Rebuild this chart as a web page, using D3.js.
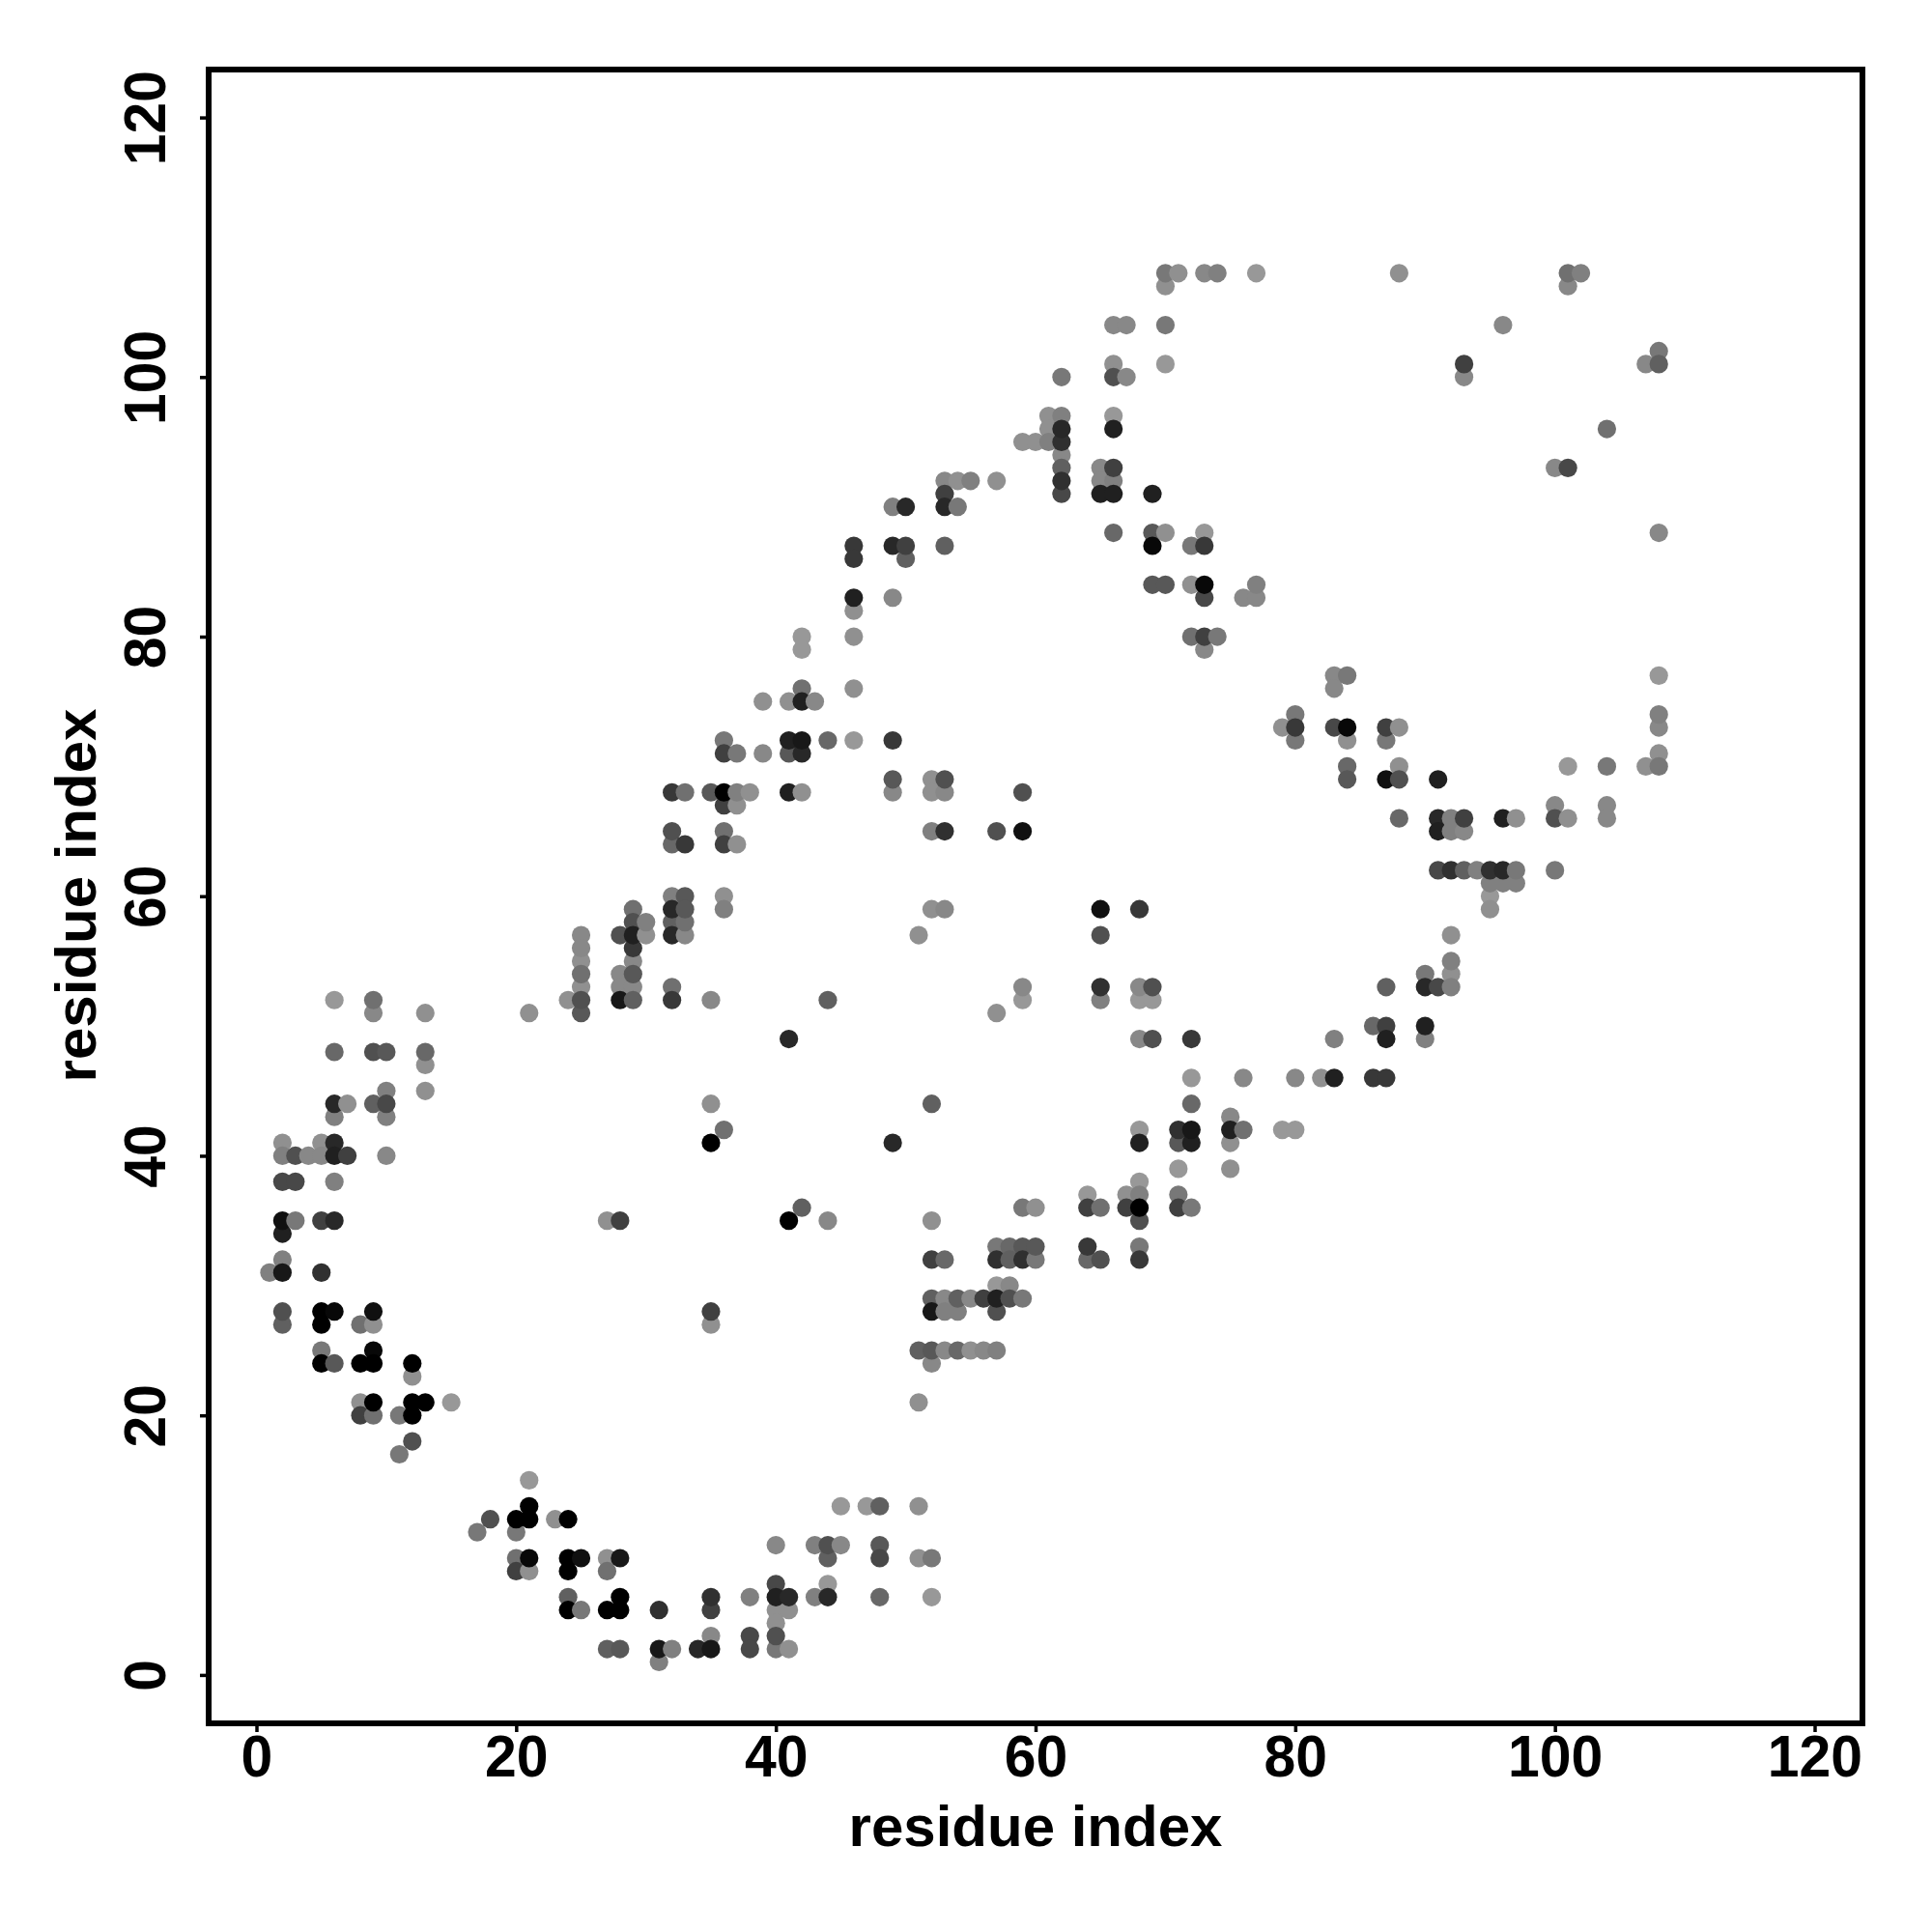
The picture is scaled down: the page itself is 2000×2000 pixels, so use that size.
<!DOCTYPE html>
<html>
<head>
<meta charset="utf-8">
<script src="https://cdn.jsdelivr.net/npm/d3@7"></script>
<style>
html,body{margin:0;padding:0;background:#fff}
svg{display:block}
text{font-family:"Liberation Sans",Arial,sans-serif;font-weight:700;fill:#000}
</style>
</head>
<body>
<svg id="chart" width="2000" height="2000"></svg>
<script>
// Each contact is [residue i, residue j, level]; level is the grey level.
const xTicks = [0,20,40,60,80,100,120];
const yTicks = [0,20,40,60,80,100,120];
const xTitle = "residue index";
const yTitle = "residue index";

const leftArm = [
[6,52,0x98],[9,52,0x70],[9,51,0x88],[13,51,0x90],[6,48,0x68],[9,48,0x50],[10,48,0x58],[13,48,0x68],[13,47,0x90],[13,45,0x90],
[10,45,0x80],[6,44,0x28],[7,44,0x90],[9,44,0x60],[10,44,0x48],[6,43,0x80],[10,43,0x80],
[2,41,0x90],[5,41,0x90],[6,41,0x28],[2,40,0x80],[3,40,0x50],[4,40,0x88],[5,40,0x88],[6,40,0x20],[7,40,0x40],[10,40,0x88],
[2,38,0x48],[3,38,0x48],[6,38,0x80],[2,35,0x10],[3,35,0x78],[5,35,0x40],[6,35,0x28],[2,34,0x20],
[2,32,0x80],[1,31,0x80],[2,31,0x18],[5,31,0x30],[2,28,0x50],[2,27,0x60],[5,28,0x00],[6,28,0x08],[5,27,0x00],[8,27,0x70],[9,28,0x10],[9,27,0x90],
[5,25,0x78],[5,24,0x00],[6,24,0x58],[8,24,0x00],[9,24,0x00],[9,25,0x08],[12,24,0x00],[12,23,0x90],
[8,21,0x90],[9,21,0x00],[12,21,0x00],[13,21,0x00],[15,21,0x98],[8,20,0x40],[9,20,0x70],[11,20,0x78],[12,20,0x00],[12,18,0x50],[11,17,0x78]
];

const bottomArc = [
[21,15,0x98],[21,13,0x00],[18,12,0x50],[20,12,0x00],[21,12,0x00],[23,12,0x90],[24,12,0x00],[17,11,0x78],[20,11,0x78],
[20,9,0x70],[21,9,0x08],[24,9,0x00],[25,9,0x10],[27,9,0x90],[28,9,0x18],[20,8,0x40],[21,8,0x90],[24,8,0x00],[27,8,0x70],
[24,6,0x60],[28,6,0x00],[24,5,0x00],[25,5,0x78],[27,5,0x00],[28,5,0x00],[31,5,0x30],[35,6,0x30],[35,5,0x40],[38,6,0x80],[35,3,0x88],[38,3,0x48],[38,2,0x48],
[27,2,0x60],[28,2,0x58],[31,2,0x18],[32,2,0x80],[31,1,0x80],[34,2,0x28],[35,2,0x18],
[40,7,0x48],[40,6,0x20],[41,6,0x28],[40,5,0x90],[41,5,0x90],[40,4,0x90],[40,3,0x50],[40,2,0x78],[41,2,0x90],
[40,10,0x88],[43,6,0x80],[44,6,0x28],[44,7,0x98],[43,10,0x80],[44,10,0x50],[45,10,0x88],[44,9,0x60],
[48,10,0x58],[48,9,0x48],[48,6,0x68],[45,13,0x98],[47,13,0x98],[48,13,0x60],[51,13,0x90],[51,9,0x90],[52,9,0x78],[52,6,0x98]
];

const middleBand = [
[46,76,0x90],[42,76,0x70],[39,75,0x90],[41,75,0x90],[42,75,0x20],[43,75,0x88],
[36,72,0x78],[41,72,0x20],[42,72,0x18],[44,72,0x68],[46,72,0x98],[49,72,0x38],[36,71,0x40],[37,71,0x78],[39,71,0x88],[41,71,0x58],[42,71,0x28],
[32,68,0x38],[33,68,0x70],[35,68,0x58],[36,68,0x00],[37,68,0x80],[38,68,0x90],[41,68,0x20],[42,68,0x90],[36,67,0x40],[37,67,0x90],
[49,69,0x58],[49,68,0x88],[52,69,0x90],[53,69,0x50],[52,68,0x90],[53,68,0x88],
[32,65,0x50],[32,64,0x68],[33,64,0x38],[36,65,0x70],[36,64,0x40],[37,64,0x90],[52,65,0x80],[53,65,0x30],[57,65,0x50],[59,65,0x10],[59,68,0x50],
[32,60,0x80],[33,60,0x58],[32,59,0x28],[33,59,0x58],[32,58,0x60],[33,58,0x70],[32,57,0x28],[33,57,0x88],[36,60,0x90],[36,59,0x80],
[29,59,0x70],[29,58,0x50],[30,58,0x80],[28,57,0x50],[29,57,0x20],[30,57,0x90],[29,56,0x38],[29,55,0x88],[28,54,0x88],[29,54,0x58],[28,53,0x88],[29,53,0x88],[28,52,0x18],[29,52,0x60],
[25,57,0x88],[25,56,0x88],[25,55,0x90],[25,54,0x70],[25,53,0x90],[25,52,0x50],[25,51,0x58],[24,52,0x90],[21,51,0x90],
[32,53,0x70],[32,52,0x38],[35,52,0x88],[44,52,0x60],[41,49,0x28],[35,44,0x90],[52,44,0x60],[36,42,0x70],[35,41,0x00],[49,41,0x28],
[52,59,0x90],[53,59,0x88],[51,57,0x90],[65,59,0x10],[68,59,0x38],[65,57,0x50],
[27,35,0x90],[28,35,0x40],[35,28,0x40],[35,27,0x90],[41,35,0x00],[42,36,0x60],[44,35,0x88]
];

const upperArc = [
[70,108,0x78],[71,108,0x90],[73,108,0x88],[74,108,0x80],[77,108,0x98],[70,107,0x90],
[66,104,0x88],[67,104,0x88],[70,104,0x78],[66,101,0x90],[70,101,0x98],[66,100,0x50],[67,100,0x88],[62,100,0x78],
[61,97,0x90],[62,97,0x80],[61,96,0x90],[62,96,0x28],[59,95,0x90],[60,95,0x90],[61,95,0x80],[62,95,0x30],[62,94,0x88],[62,93,0x60],[62,92,0x30],[62,91,0x48],
[66,97,0x98],[66,96,0x20],[65,93,0x88],[66,93,0x40],[65,92,0x88],[66,92,0x80],[65,91,0x20],[66,91,0x20],[69,91,0x20],
[53,92,0x88],[54,92,0x90],[55,92,0x80],[57,92,0x90],[53,91,0x40],[53,90,0x28],[54,90,0x78],[49,90,0x80],[50,90,0x28],
[66,88,0x68],[69,88,0x58],[70,88,0x90],[73,88,0x98],[69,87,0x08],[72,87,0x78],[73,87,0x38],
[46,87,0x38],[46,86,0x38],[49,87,0x28],[50,87,0x40],[50,86,0x60],[53,87,0x60],[46,83,0x20],[46,82,0x90],[49,83,0x88],
[69,84,0x58],[70,84,0x58],[72,84,0x90],[73,84,0x08],[73,83,0x48],[77,84,0x80],[76,83,0x88],[77,83,0x88],
[72,80,0x70],[73,80,0x40],[74,80,0x78],[73,79,0x88],[42,80,0x98],[42,79,0x98],[46,80,0x90]
];

const rightBranch = [
[83,77,0x88],[84,77,0x78],[83,76,0x88],[80,74,0x78],[79,73,0x90],[80,73,0x38],[80,72,0x78],
[83,73,0x48],[84,73,0x08],[84,72,0x90],[87,73,0x40],[88,73,0x90],[87,72,0x78],
[84,70,0x68],[84,69,0x58],[88,70,0x90],[87,69,0x10],[88,69,0x50],[91,69,0x20],
[88,66,0x68],[91,66,0x28],[92,66,0x80],[93,66,0x40],[91,65,0x20],[92,65,0x80],[93,65,0x88],
[96,66,0x20],[97,66,0x90],[100,67,0x88],[100,66,0x50],[101,66,0x90],[104,67,0x88],[104,66,0x88],
[101,70,0x98],[104,70,0x78],[107,70,0x90],[108,70,0x78],[108,71,0x90],[108,73,0x88],[108,74,0x80],[108,77,0x98],
[91,62,0x48],[92,62,0x30],[93,62,0x60],[94,62,0x80],[95,62,0x30],[96,62,0x28],[97,62,0x78],[100,62,0x78],
[95,61,0x80],[96,61,0x80],[97,61,0x80],[95,60,0x98],[95,59,0x90],
[92,57,0x90],[92,55,0x80],[92,54,0x90],[92,53,0x80],[90,54,0x78],[90,53,0x28],[91,53,0x48],[87,53,0x60],
[86,50,0x68],[87,50,0x40],[87,49,0x20],[90,50,0x20],[90,49,0x80],[83,49,0x80],
[80,46,0x88],[82,46,0x90],[83,46,0x20],[86,46,0x38],[87,46,0x38],
[88,108,0x90],[101,108,0x70],[102,108,0x80],[101,107,0x88],[96,104,0x88],[93,101,0x40],[93,100,0x88],
[108,102,0x78],[107,101,0x88],[108,101,0x60],[104,96,0x70],[100,93,0x88],[101,93,0x48],[108,88,0x88]
];

const lowerBand = [
[59,53,0x88],[59,52,0x98],[57,51,0x90],[65,53,0x30],[65,52,0x80],[68,53,0x88],[69,53,0x50],[68,52,0x98],[69,52,0x98],
[68,49,0x88],[69,49,0x50],[72,49,0x38],[72,46,0x98],[76,46,0x88],[72,44,0x68],
[68,42,0x98],[68,41,0x20],[71,42,0x30],[72,42,0x18],[71,41,0x58],[72,41,0x20],[75,43,0x88],[75,42,0x20],[76,42,0x70],[75,41,0x90],[79,42,0x98],[80,42,0x98],[71,39,0x98],[75,39,0x90],
[68,38,0x98],[68,37,0x80],[67,37,0x90],[64,37,0x98],[71,37,0x78],[64,36,0x40],[65,36,0x70],[67,36,0x40],[68,36,0x00],[68,35,0x50],[71,36,0x40],[72,36,0x78],[59,36,0x78],[60,36,0x90],
[52,35,0x90],[57,33,0x78],[58,33,0x68],[59,33,0x58],[60,33,0x58],[57,32,0x30],[58,32,0x60],[59,32,0x30],[60,32,0x78],[52,32,0x40],[53,32,0x68],
[64,33,0x38],[64,32,0x68],[65,32,0x50],[68,33,0x78],[68,32,0x38],
[57,30,0x98],[58,30,0x88],[52,29,0x60],[53,29,0x88],[54,29,0x60],[55,29,0x88],[56,29,0x40],[57,29,0x20],[58,29,0x50],[59,29,0x78],[52,28,0x18],[53,28,0x80],[54,28,0x80],[57,28,0x50],
[51,25,0x60],[52,25,0x58],[53,25,0x88],[54,25,0x68],[55,25,0x90],[56,25,0x88],[57,25,0x80],[52,24,0x88],[51,21,0x90]
];

const contacts = [...leftArm, ...bottomArc, ...middleBand, ...upperArc, ...rightBranch, ...lowerBand]
  .sort((a,b) => d3.ascending(a[0],b[0]) || d3.descending(a[2],b[2]));

const svg = d3.select("#chart");
const box = {left:216, right:1928, top:72, bottom:1784};
const x = d3.scaleLinear().domain([0,120]).range([265.5,1878.5]);
const y = d3.scaleLinear().domain([0,120]).range([1733.9,121.6]);
const grey = d3.scaleLinear().domain([0,255]).range(["#000","#fff"]);

svg.append("g").selectAll("circle").data(contacts).join("circle")
  .attr("cx", d => x(d[0]))
  .attr("cy", d => y(d[1]))
  .attr("r", 9.6)
  .attr("fill", d => grey(d[2]));

svg.append("rect")
  .attr("x", box.left).attr("y", box.top)
  .attr("width", box.right-box.left).attr("height", box.bottom-box.top)
  .attr("fill","none").attr("stroke","#000").attr("stroke-width",6);

const fs = 62;
const squeeze = 0.95;
const gx = svg.append("g").attr("transform",`translate(0,${box.bottom})`)
  .call(d3.axisBottom(x).tickValues(xTicks).tickSize(9).tickSizeOuter(0).tickPadding(6));
const gy = svg.append("g").attr("transform",`translate(${box.left},0)`)
  .call(d3.axisLeft(y).tickValues(yTicks).tickSize(9).tickSizeOuter(0).tickPadding(6));
gx.select(".domain").remove();
gy.select(".domain").remove();
svg.selectAll(".tick line").attr("stroke","#000").attr("stroke-width",3.5);
gx.selectAll("text").attr("font-size",fs).attr("font-family",null).attr("dy",null)
  .attr("y",55).attr("text-anchor","middle")
  .attr("transform",`scale(${squeeze},1)`);
gy.selectAll("text").attr("font-size",fs).attr("font-family",null).attr("x",null).attr("dy",null)
  .attr("transform",`translate(-45,0) rotate(-90) scale(${squeeze},1)`).attr("text-anchor","middle");

svg.append("text").text(xTitle).attr("x",1072).attr("y",1910.5)
  .attr("text-anchor","middle").attr("font-size",60);
svg.append("text").text(yTitle).attr("transform","translate(98.5,927) rotate(-90)")
  .attr("text-anchor","middle").attr("font-size",60);
</script>
</body>
</html>
